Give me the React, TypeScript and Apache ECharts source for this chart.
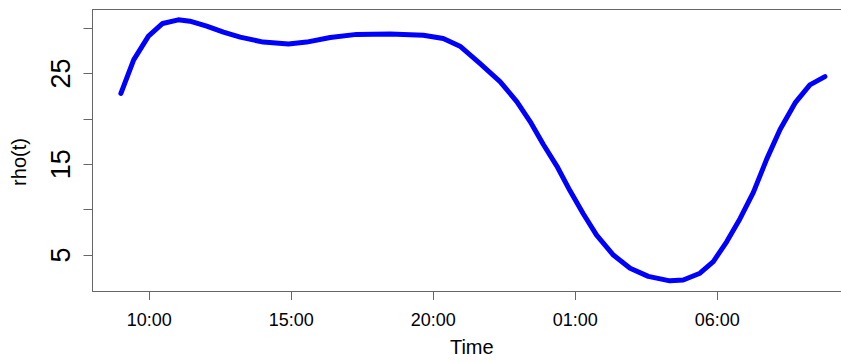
import React, { useEffect, useRef } from "react";
import * as echarts from "echarts";

// hours since midnight of the first day
const timeHours = [
  9.0, 9.45, 9.97, 10.47, 11.02, 11.43, 12.02, 12.61, 13.2, 14.01, 14.9, 15.54,
  16.37, 17.3, 18.48, 19.65, 20.35, 20.94, 21.64, 22.35, 22.94, 23.41, 23.87,
  24.35, 24.81, 25.28, 25.75, 26.34, 26.93, 27.57, 28.33, 28.8, 29.39, 29.86,
  30.33, 30.8, 31.27, 31.74, 32.21, 32.74, 33.26, 33.79,
];
const rhoValues = [
  22.8, 26.5, 29.1, 30.5, 30.9, 30.75, 30.2, 29.55, 29.0, 28.45, 28.25, 28.45,
  28.95, 29.3, 29.35, 29.2, 28.85, 28.0, 26.1, 24.1, 21.9, 19.7, 17.2, 14.8,
  12.1, 9.55, 7.2, 5.0, 3.55, 2.65, 2.16, 2.25, 3.0, 4.28, 6.46, 9.0, 11.9,
  15.56, 18.83, 21.75, 23.74, 24.65,
];
const xTickHours = [10, 15, 20, 25, 30];
const yTicks = [5, 10, 15, 20, 25, 30];
const yTickLabels = [5, 15, 25];

const FONT = "'Liberation Sans', Arial, sans-serif";
const LINE = "#666";
const X_MIN = 8;
const X_MAX = 34.356;

export default function App() {
  const ref = useRef<HTMLDivElement>(null);
  useEffect(() => {
    if (!ref.current) return;
    const chart = echarts.init(ref.current, null, { renderer: "svg" });
    const fmt = (v: number) => {
      const h = Math.round(v) % 24;
      return (h < 10 ? "0" : "") + h + ":00";
    };
    chart.setOption({
      animation: false,
      backgroundColor: "#fff",
      grid: {
        left: 92.5,
        top: 9.5,
        right: 0,
        bottom: 68.5,
        show: false,
      },
      xAxis: [
        {
          type: "value",
          min: X_MIN,
          max: X_MAX,
          name: "Time",
          nameLocation: "middle",
          nameGap: 46,
          nameTextStyle: { fontFamily: FONT, fontSize: 20, color: "#000", padding: [0, 0, 0, 10] },
          axisLine: { show: true, lineStyle: { color: LINE, width: 1 } },
          splitLine: { show: false },
          axisTick: {
            show: true,
            length: 9,
            customValues: xTickHours,
            lineStyle: { color: LINE, width: 1 },
          },
          axisLabel: {
            customValues: xTickHours,
            formatter: fmt,
            margin: 20,
            fontFamily: FONT,
            fontSize: 18,
            color: "#000",
          },
        },
        {
          type: "value",
          position: "top",
          min: X_MIN,
          max: X_MAX,
          axisLine: { show: true, lineStyle: { color: LINE, width: 1 } },
          axisTick: { show: false },
          axisLabel: { show: false },
          splitLine: { show: false },
        },
      ],
      yAxis: {
        type: "value",
        min: 1.04,
        max: 32.04,
        axisLine: { show: true, lineStyle: { color: LINE, width: 1 } },
        splitLine: { show: false },
        axisTick: {
          show: true,
          length: 9,
          customValues: yTicks,
          lineStyle: { color: LINE, width: 1 },
        },
        axisLabel: {
          customValues: yTickLabels,
          rotate: 90,
          margin: 18,
          fontFamily: FONT,
          fontSize: 27,
          color: "#000",
        },
      },
      graphic: [
        {
          type: "text",
          x: 19,
          y: 162,
          rotation: Math.PI / 2,
          style: {
            text: "rho(t)",
            fontFamily: FONT,
            fontSize: 20,
            fill: "#000",
            align: "center",
            verticalAlign: "middle",
          },
        },
      ],
      series: [
        {
          type: "line",
          xAxisIndex: 0,
          data: timeHours.map((t, i) => [t, rhoValues[i]]),
          showSymbol: false,
          smooth: false,
          lineStyle: { color: "#0000ff", width: 5, cap: "round", join: "round" },
        },
      ],
    });
    return () => chart.dispose();
  }, []);
  return <div ref={ref} style={{ width: 841, height: 362, position: "absolute", left: 0, top: 0 }} />;
}
